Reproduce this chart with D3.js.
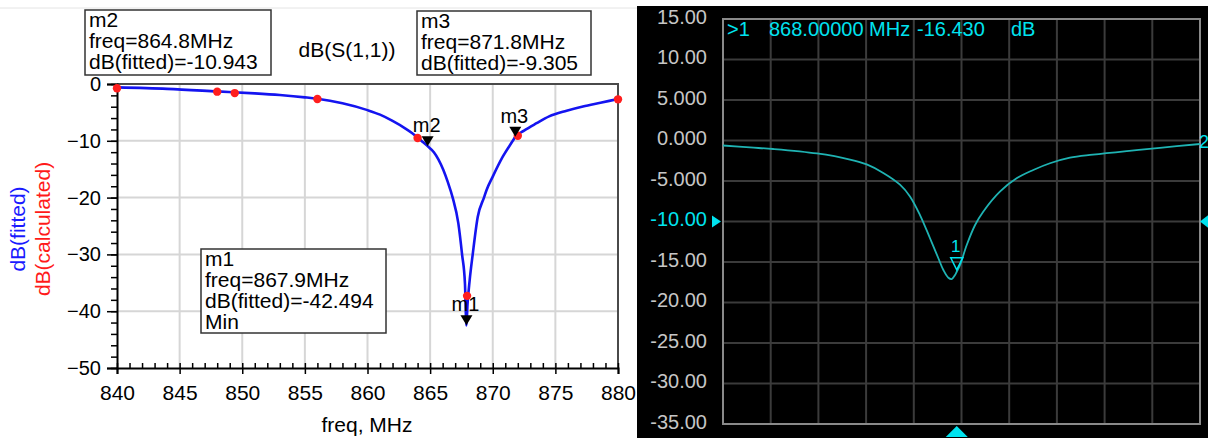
<!DOCTYPE html>
<html><head><meta charset="utf-8">
<script src="https://cdn.jsdelivr.net/npm/d3@7"></script>
<style>
body{margin:0;background:#fff}
svg{display:block}
text{font-family:"Liberation Sans",Arial,sans-serif}
</style></head>
<body><svg id="c" width="1208" height="438"></svg>
<script>
// ---------- Left chart data (ADS simulation) ----------
const fitFreq = [840, 844, 848, 851, 853, 855, 856, 858, 860, 861, 862, 863, 863.6, 864.3, 864.8, 865.3, 866.05, 866.4, 866.8, 867.25, 867.55, 867.78, 867.9, 867.98, 868.16, 868.4, 868.8, 869.3, 869.5, 870.0, 870.8, 871.6, 871.8, 872.5, 873.5, 874.5, 875.9, 877.2, 878.6, 880];
const fitDb = [-0.6, -0.85, -1.3, -1.65, -1.95, -2.35, -2.6, -3.4, -4.6, -5.4, -6.5, -7.8, -8.7, -10.0, -10.943, -12.0, -15.1, -17.2, -20.0, -24.5, -30.0, -35.1, -42.494, -39.0, -34.5, -30.0, -23.4, -20.0, -18.7, -16.3, -12.8, -10.0, -9.305, -8.2, -6.9, -5.7, -4.7, -3.95, -3.3, -2.65];
const calcFreq = [840, 848, 849.4, 856, 864.0, 867.95, 872, 880];
const calcDb = [-0.75, -1.35, -1.6, -2.65, -9.5, -37.3, -9.1, -2.7];
const markerNames = ["m1", "m2", "m3"];
const markerFreq = [867.9, 864.8, 871.8];
const markerDb = [-42.494, -10.943, -9.305];
const markerExtra = ["Min", "", ""];
const xTicksL = [840, 845, 850, 855, 860, 865, 870, 875, 880];
const yTicksL = [0, -10, -20, -30, -40, -50];

// ---------- Right chart data (VNA measurement) ----------
const vnaFreq = [770.0, 781.3, 791.0, 809.4, 823.25, 830.25, 837.2, 844.2, 848.4, 852.6, 856.8, 860.3, 862.4, 864.5, 865.9, 867.3, 868.0, 869.4, 872.2, 875.7, 879.1, 886.1, 893.1, 900.1, 907.1, 915.5, 925.1, 939.3, 953.2, 970.0];
const vnaDb = [-0.62, -0.86, -1.05, -1.6, -2.35, -2.95, -4.0, -5.45, -6.9, -9.2, -12.07, -14.54, -15.99, -16.94, -17.1, -16.6, -16.2, -15.37, -12.9, -10.43, -8.79, -6.32, -4.67, -3.64, -2.81, -2.12, -1.75, -1.3, -0.9, -0.43];
const vnaYTicks = [15, 10, 5, 0, -5, -10, -15, -20, -25, -30, -35];
const vnaYLabels = ["15.00", "10.00", "5.000", "0.000", "-5.000", "-10.00", "-15.00", "-20.00", "-25.00", "-30.00", "-35.00"];
const vnaXGrid = [790, 810, 830, 850, 870, 890, 910, 930, 950];
const vnaMarkerFreq = 868.0;
const vnaMarkerDb = -16.430;
const vnaRefLevel = -10;

const svg = d3.select("#c");
const CYAN = "#00e3ef";

// ================= LEFT CHART =================
svg.append("line").attr("x1", 0).attr("x2", 637).attr("y1", 8).attr("y2", 8)
  .attr("stroke", "#e4e4e4").attr("stroke-width", 1);

const xL = d3.scaleLinear().domain([840, 880]).range([117, 618]);
const yL = d3.scaleLinear().domain([-50, 0]).range([368, 84]);
const gL = svg.append("g");

// grid
gL.selectAll(".vg").data(xTicksL.slice(1, -1)).join("line")
  .attr("x1", d => xL(d)).attr("x2", d => xL(d)).attr("y1", yL(0)).attr("y2", yL(-50))
  .attr("stroke", "#d6d6d6").attr("stroke-width", 2);
gL.selectAll(".hg").data(yTicksL.slice(1, -1)).join("line")
  .attr("x1", xL(840)).attr("x2", xL(880)).attr("y1", d => yL(d)).attr("y2", d => yL(d))
  .attr("stroke", "#d6d6d6").attr("stroke-width", 2);

// frame top/right
gL.append("path").attr("d", `M${xL(840)},${yL(0)}H${xL(880)}V${yL(-50)}`)
  .attr("fill", "none").attr("stroke", "#4a4a4a").attr("stroke-width", 2);

// axes
const yAxMinor = d3.axisLeft(yL).tickValues(d3.range(-50, 0.1, 2)).tickSize(6).tickFormat("");
gL.append("g").attr("transform", `translate(${xL(840)},0)`).call(yAxMinor)
  .call(g => g.selectAll("line").attr("stroke", "#000").attr("stroke-width", 1.5))
  .call(g => g.select(".domain").remove());
const yAx = d3.axisLeft(yL).tickValues(yTicksL).tickSize(10).tickPadding(6);
gL.append("g").attr("transform", `translate(${xL(840)},0)`).call(yAx)
  .call(g => g.selectAll("line").attr("stroke", "#000").attr("stroke-width", 1.5))
  .call(g => g.select(".domain").attr("stroke", "#000").attr("stroke-width", 2))
  .call(g => g.selectAll("text").attr("font-size", 20).attr("fill", "#000")
    .attr("font-family", '"Liberation Sans",Arial,sans-serif'));

const xAxMinor = d3.axisBottom(xL).tickValues(d3.range(840, 880.1, 1)).tickSize(-5).tickFormat("");
gL.append("g").attr("transform", `translate(0,${yL(-50)})`).call(xAxMinor)
  .call(g => g.selectAll("line").attr("stroke", "#000").attr("stroke-width", 1.5))
  .call(g => g.select(".domain").remove());
const xAx = d3.axisBottom(xL).tickValues(xTicksL).tickSize(6).tickPadding(11);
gL.append("g").attr("transform", `translate(0,${yL(-50)})`).call(xAx)
  .call(g => g.selectAll("line").attr("stroke", "#000").attr("stroke-width", 1.5))
  .call(g => g.select(".domain").attr("stroke", "#000").attr("stroke-width", 2))
  .call(g => g.selectAll("text").attr("font-size", 21).attr("fill", "#000")
    .attr("font-family", '"Liberation Sans",Arial,sans-serif'));

// axis titles
svg.append("text").attr("x", 367).attr("y", 432).attr("text-anchor", "middle")
  .attr("font-size", 21).text("freq, MHz");
svg.append("text").attr("transform", "translate(25,229) rotate(-90)").attr("text-anchor", "middle")
  .attr("font-size", 21).attr("fill", "#1a1aff").text("dB(fitted)");
svg.append("text").attr("transform", "translate(50,229) rotate(-90)").attr("text-anchor", "middle")
  .attr("font-size", 21).attr("fill", "#ff1a1a").text("dB(calculated)");
svg.append("text").attr("x", 347).attr("y", 57).attr("text-anchor", "middle")
  .attr("font-size", 21).text("dB(S(1,1))");

// fitted curve
const fitData = fitFreq.map((f, i) => [f, fitDb[i]]);
gL.append("path").datum(fitData)
  .attr("d", d3.line().x(d => xL(d[0])).y(d => yL(d[1])).curve(d3.curveMonotoneX))
  .attr("fill", "none").attr("stroke", "#1414f0").attr("stroke-width", 2.6);

// calculated points
gL.selectAll(".cp").data(calcFreq.map((f, i) => [f, calcDb[i]])).join("circle")
  .attr("cx", d => xL(d[0])).attr("cy", d => yL(d[1])).attr("r", 4.2).attr("fill", "#ff1e1e");

// markers
markerNames.forEach((n, i) => {
  const x = xL(markerFreq[i]), y = yL(markerDb[i]);
  gL.append("path").attr("d", `M${x - 6},${y - 10}L${x + 6},${y - 10}L${x},${y}Z`).attr("fill", "#000");
  gL.append("text").attr("x", x - 1).attr("y", y - 14).attr("text-anchor", "middle")
    .attr("font-size", 20).text(n);
});

// marker readout boxes
const boxes = [
  {i: 0, x: 201, y: 249, w: 185, h: 84},
  {i: 1, x: 85, y: 10, w: 186, h: 65},
  {i: 2, x: 417, y: 11, w: 174, h: 64}
];
boxes.forEach(b => {
  const g = svg.append("g");
  g.append("rect").attr("x", b.x).attr("y", b.y).attr("width", b.w).attr("height", b.h)
    .attr("fill", "#fff").attr("stroke", "#333").attr("stroke-width", 1.5);
  const lines = [markerNames[b.i], `freq=${markerFreq[b.i].toFixed(1)}MHz`, `dB(fitted)=${markerDb[b.i].toFixed(3)}`];
  if (markerExtra[b.i]) lines.push(markerExtra[b.i]);
  lines.forEach((t, k) => g.append("text").attr("x", b.x + 4).attr("y", b.y + 17 + k * 21)
    .attr("font-size", 21).text(t));
});

// ================= RIGHT CHART =================
svg.append("rect").attr("x", 637).attr("y", 6).attr("width", 571).attr("height", 432).attr("fill", "#000");

const xR = d3.scaleLinear().domain([770, 970]).range([723, 1200]);
const yR = d3.scaleLinear().domain([-35, 15]).range([424, 19]);
const gR = svg.append("g");

gR.selectAll(".rv").data(vnaXGrid).join("line")
  .attr("x1", d => xR(d)).attr("x2", d => xR(d)).attr("y1", yR(15)).attr("y2", yR(-35))
  .attr("stroke", "#3b3b3b").attr("stroke-width", 2);
gR.selectAll(".rh").data(vnaYTicks.slice(1, -1)).join("line")
  .attr("x1", xR(770)).attr("x2", xR(970)).attr("y1", d => yR(d)).attr("y2", d => yR(d))
  .attr("stroke", "#3b3b3b").attr("stroke-width", 2);
gR.append("rect").attr("x", xR(770)).attr("y", yR(15)).attr("width", xR(970) - xR(770))
  .attr("height", yR(-35) - yR(15)).attr("fill", "none").attr("stroke", "#8a8a8a").attr("stroke-width", 2);

const yAxR = d3.axisLeft(yR).tickValues(vnaYTicks).tickSize(0).tickPadding(16)
  .tickFormat((d, i) => vnaYLabels[i]);
gR.append("g").attr("transform", `translate(${xR(770)},-2)`).call(yAxR)
  .call(g => g.select(".domain").remove())
  .call(g => g.selectAll("text").attr("font-size", 20)
    .attr("font-family", '"Liberation Sans",Arial,sans-serif')
    .attr("fill", d => d === vnaRefLevel ? CYAN : "#c6c6c6"));

// reference level arrows
const yRef = yR(vnaRefLevel);
gR.append("path").attr("d", `M712,${yRef - 6}L721,${yRef}L712,${yRef + 6}Z`).attr("fill", CYAN);
gR.append("path").attr("d", `M1209,${yRef - 7}L1200,${yRef}L1209,${yRef + 7}Z`).attr("fill", CYAN);

// trace
const vnaData = vnaFreq.map((f, i) => [f, vnaDb[i]]);
gR.append("path").datum(vnaData)
  .attr("d", d3.line().x(d => xR(d[0])).y(d => yR(d[1])).curve(d3.curveCatmullRom))
  .attr("fill", "none").attr("stroke", "#1fb3b3").attr("stroke-width", 1.8);
gR.append("text").attr("x", 1199).attr("y", 148).attr("font-size", 18).attr("fill", CYAN).text("2");

// marker 1
const mIdx = vnaFreq.indexOf(vnaMarkerFreq);
const mx = xR(vnaMarkerFreq), my = yR(vnaDb[mIdx]);
gR.append("path").attr("d", `M${mx - 6},${my - 14}L${mx + 6},${my - 14}L${mx},${my - 2}Z`)
  .attr("fill", "none").attr("stroke", CYAN).attr("stroke-width", 1.5);
gR.append("text").attr("x", mx - 1).attr("y", my - 20).attr("text-anchor", "middle")
  .attr("font-size", 17).attr("fill", CYAN).text("1");
gR.append("path").attr("d", `M${mx - 11},437L${mx + 11},437L${mx},426Z`).attr("fill", CYAN);

// marker readout
const ro = gR.append("g").attr("font-size", 20).attr("fill", CYAN);
ro.append("text").attr("x", 727).attr("y", 36).text(">1");
ro.append("text").attr("x", 769).attr("y", 36).text(`${vnaMarkerFreq.toFixed(5)} MHz`);
ro.append("text").attr("x", 917).attr("y", 36).text(vnaMarkerDb.toFixed(3));
ro.append("text").attr("x", 1011).attr("y", 36).text("dB");
</script>
</body></html>
